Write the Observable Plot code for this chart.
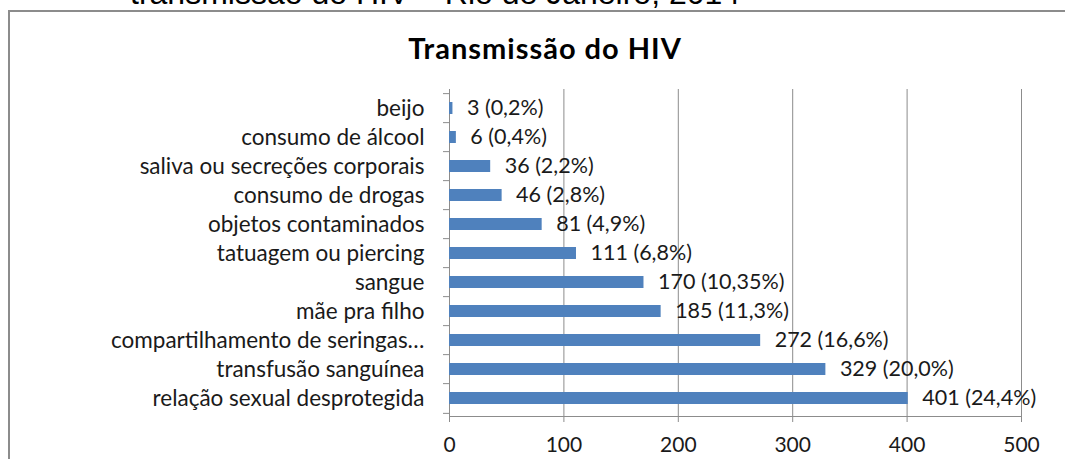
<!DOCTYPE html>
<html>
<head>
<meta charset="utf-8">
<script src="https://cdn.jsdelivr.net/npm/d3@7"></script>
<script src="https://cdn.jsdelivr.net/npm/@observablehq/plot@0.6"></script>
<style>
  html, body { margin: 0; padding: 0; background: #fff; }
  #wrap { position: relative; width: 1065px; height: 459px; overflow: hidden; }
  #box { position: absolute; left: 8px; top: 10px; width: 1200px; height: 600px; border: 2px solid #8c8c8c; box-sizing: border-box; }
  #sup { position: absolute; left: 130px; top: -25px; font-family: "Liberation Sans", Arial, sans-serif; font-size: 32px; color: #000; white-space: nowrap; line-height: 36px; }
  #title { position: absolute; left: 0; width: 1090px; top: 31px; text-align: center; font-family: Lato, sans-serif; font-weight: bold; font-size: 29px; letter-spacing: 1px; color: #000; line-height: 34px; }
  #chart { position: absolute; left: 0; top: 0; }
</style>
</head>
<body>
<div id="wrap">
  <div id="sup">transmissão do HIV – Rio de Janeiro, 2014</div>
  <div id="box"></div>
  <div id="title">Transmissão do HIV</div>
  <div id="chart"></div>
</div>
<script>
const categories = [
  "beijo",
  "consumo de álcool",
  "saliva ou secreções corporais",
  "consumo de drogas",
  "objetos contaminados",
  "tatuagem ou piercing",
  "sangue",
  "mãe pra filho",
  "compartilhamento de seringas…",
  "transfusão sanguínea",
  "relação sexual desprotegida"
];
const counts = [3, 6, 36, 46, 81, 111, 170, 185, 272, 329, 401];
const percents = ["0,2%", "0,4%", "2,2%", "2,8%", "4,9%", "6,8%", "10,35%", "11,3%", "16,6%", "20,0%", "24,4%"];
const xTicks = [0, 100, 200, 300, 400, 500];

const data = categories.map((c, i) => ({cat: c, n: counts[i], label: `${counts[i]} (${percents[i]})`}));

const W = 1065, H = 459, mT = 89, mB = 43, mL = 449, mR = 44;
const step = (H - mT - mB) / categories.length;
const grey = "#8c8c8c";
const ink = "#1a1a1a";

const chart = Plot.plot({
  width: W,
  height: H,
  marginTop: mT,
  marginBottom: mB,
  marginLeft: mL,
  marginRight: mR,
  style: {fontFamily: "Lato, sans-serif", fontSize: "21px", background: "transparent", color: ink},
  x: {domain: [0, 500]},
  y: {domain: categories, paddingInner: 0.6, paddingOuter: 0.3},
  marks: [
    Plot.gridX(xTicks, {stroke: grey, strokeOpacity: 1}),
    Plot.frame({anchor: "bottom", stroke: grey}),
    Plot.axisX(xTicks, {tickSize: 6, tickPadding: 15, stroke: grey, fill: ink, fontSize: 21, label: null}),
    Plot.axisY({tickSize: 6, text: null, stroke: grey, dy: -step / 2, label: null}),
    Plot.axisY([categories[categories.length - 1]], {tickSize: 6, text: null, stroke: grey, dy: step / 2, label: null}),
    Plot.axisY({tickSize: 0, tickPadding: 25, fill: ink, fontSize: 22.5, label: null}),
    Plot.barX(data, {x: "n", y: "cat", fill: "#4F81BD"}),
    Plot.text(data, {x: "n", y: "cat", text: "label", textAnchor: "start", dx: 14, fill: ink, fontSize: 21.5})
  ]
});
document.getElementById("chart").appendChild(chart);
</script>
</body>
</html>
